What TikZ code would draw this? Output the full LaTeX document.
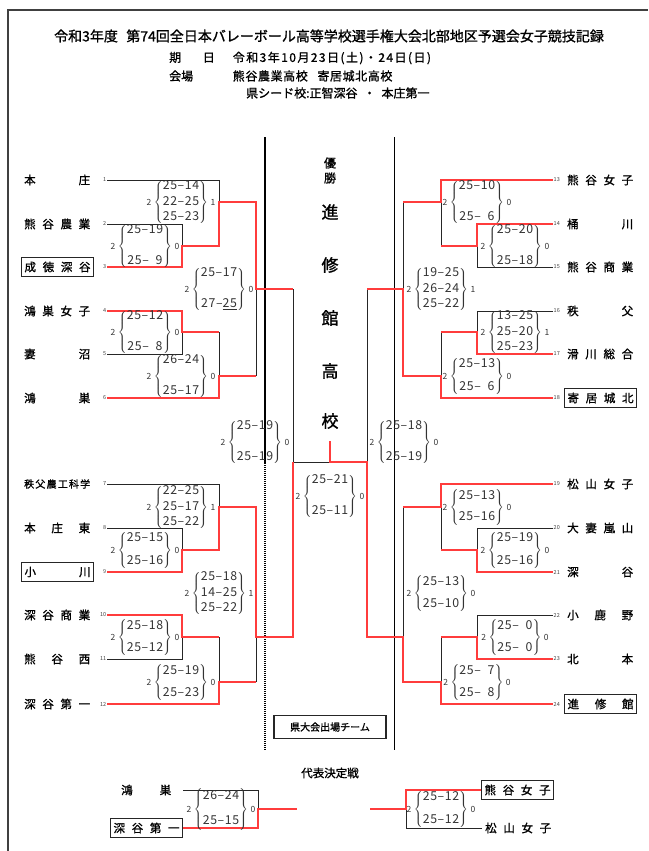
\documentclass[tikz,border=0pt]{standalone}
\usepackage{fontspec}
\setmainfont{Noto Sans CJK JP}
\newfontfamily\jpb{Noto Sans CJK JP}[FakeBold=1.2]
\newfontfamily\scorefont{Noto Sans CJK JP}[LetterSpace=5]
\usepackage{tikz}

\definecolor{wred}{RGB}{255,60,60}
\newcommand{\tname}[1]{\makebox[66pt]{#1}}
\newcommand{\dsp}{\phantom{0}}
\newcommand{\cnt}[1]{{\fontsize{8.5}{9}\selectfont #1}}
\newcommand{\setscore}[3]{\cnt{#1}\hspace{2.5pt}$\left\{\begin{tabular}{@{}c@{}}#2\end{tabular}\right\}$\hspace{2.5pt}\cnt{#3}}

\tikzset{
    frame/.style = {line width=1.3pt, draw=black!75},
    title/.style = {font=\jpb\fontsize{14}{16}\selectfont},
    info/.style = {anchor=west, inner sep=0pt, font=\jpb\fontsize{12}{14}\selectfont},
    team/.style = {anchor=west, inner xsep=3pt, inner ysep=4pt, font=\jpb\fontsize{11.5}{12}\selectfont},
    boxed/.style = {draw=black!85, line width=1.1pt},
    seed/.style = {inner sep=0.5pt, font=\fontsize{5.5}{6}\selectfont, text=black!75},
    score/.style = {inner sep=0pt, text=black!80, font=\scorefont\fontsize{12.3}{15.5}\selectfont},
    win/.style = {draw=wred, line width=1.2pt},
    lose/.style = {draw=black!85, line width=0.9pt},
    champ/.style = {font=\jpb\fontsize{17}{18}\selectfont}
}

\begin{document}
\begin{tikzpicture}[x=1pt,y=-1pt]
\useasboundingbox (0,0) rectangle (648,851);
\draw[frame] (8,851) -- (8,10) -- (648,10);

% heading
\node[title] (title) at (329,36) {令和3年度\hspace{0.6em}第74回全日本バレーボール高等学校選手権大会北部地区予選会女子競技記録};
\node[info] (date) at (169,58) {期\hspace{1.8em}日\hspace{1.5em}{\addfontfeatures{LetterSpace=12}令和3年10月23日(土)・24日(日)}};
\node[info] (venue) at (169,76) {会場\hspace{3.3em}{\addfontfeatures{LetterSpace=5}熊谷農業高校\hspace{0.8em}寄居城北高校}};
\node[info] (seeded) at (246,93) {県シード校:正智深谷\hspace{0.5em}・\hspace{0.5em}本庄第一};

% center column
\draw[line width=2.4pt] (265,137) -- (265,463);
\draw[line width=2pt, dash pattern=on 1pt off 1pt] (265,463) -- (265,750);
\draw[line width=1pt] (394,137) -- (394,750);
\node[font=\jpb\fontsize{12}{12}\selectfont] (yu) at (330,163) {優};
\node[font=\jpb\fontsize{12}{12}\selectfont] (sho) at (330,178) {勝};
\node[champ] (c1) at (330,212) {進};
\node[champ] (c2) at (330,265) {修};
\node[champ] (c3) at (330,318) {館};
\node[champ] (c4) at (330,371) {高};
\node[champ] (c5) at (330,421) {校};
\node[draw=black!85, line width=1.1pt, minimum width=112pt, minimum height=23pt, font=\jpb\fontsize{10}{10}\selectfont] (pref) at (330,727) {県大会出場チーム};

% left teams
\node[team] (t1) at (21,180) {\tname{本\hfill 庄}};
\node[team] (t2) at (21,224) {\tname{熊\hfill 谷\hfill 農\hfill 業}};
\node[team, boxed] (t3) at (21,267) {\tname{成\hfill 徳\hfill 深\hfill 谷}};
\node[team] (t4) at (21,311) {\tname{鴻\hfill 巣\hfill 女\hfill 子}};
\node[team] (t5) at (21,354) {\tname{妻\hfill 沼}};
\node[team] (t6) at (21,398) {\tname{鴻\hfill 巣}};
\node[team, font=\jpb\fontsize{10}{11}\selectfont] (t7) at (21,484) {\tname{秩\hfill 父\hfill 農\hfill 工\hfill 科\hfill 学}};
\node[team] (t8) at (21,528) {\tname{本\hfill 庄\hfill 東}};
\node[team, boxed] (t9) at (21,572) {\tname{小\hfill 川}};
\node[team] (t10) at (21,615) {\tname{深\hfill 谷\hfill 商\hfill 業}};
\node[team] (t11) at (21,659) {\tname{熊\hfill 谷\hfill 西}};
\node[team] (t12) at (21,704) {\tname{深\hfill 谷\hfill 第\hfill 一}};

\node[seed, anchor=east] (n1) at (107,180) {1};
\node[seed, anchor=east] (n2) at (107,224) {2};
\node[seed, anchor=east] (n3) at (107,267) {3};
\node[seed, anchor=east] (n4) at (107,311) {4};
\node[seed, anchor=east] (n5) at (107,354) {5};
\node[seed, anchor=east] (n6) at (107,398) {6};
\node[seed, anchor=east] (n7) at (107,484) {7};
\node[seed, anchor=east] (n8) at (107,528) {8};
\node[seed, anchor=east] (n9) at (107,572) {9};
\node[seed, anchor=east] (n10) at (107,615) {10};
\node[seed, anchor=east] (n11) at (107,659) {11};
\node[seed, anchor=east] (n12) at (107,704) {12};

% right teams
\node[team] (t13) at (564,180) {\tname{熊\hfill 谷\hfill 女\hfill 子}};
\node[team] (t14) at (564,224) {\tname{桶\hfill 川}};
\node[team] (t15) at (564,267) {\tname{熊\hfill 谷\hfill 商\hfill 業}};
\node[team] (t16) at (564,311) {\tname{秩\hfill 父}};
\node[team] (t17) at (564,354) {\tname{滑\hfill 川\hfill 総\hfill 合}};
\node[team, boxed] (t18) at (564,398) {\tname{寄\hfill 居\hfill 城\hfill 北}};
\node[team] (t19) at (564,484) {\tname{松\hfill 山\hfill 女\hfill 子}};
\node[team] (t20) at (564,528) {\tname{大\hfill 妻\hfill 嵐\hfill 山}};
\node[team] (t21) at (564,572) {\tname{深\hfill 谷}};
\node[team] (t22) at (564,615) {\tname{小\hfill 鹿\hfill 野}};
\node[team] (t23) at (564,659) {\tname{北\hfill 本}};
\node[team, boxed] (t24) at (564,704) {\tname{進\hfill 修\hfill 館}};

\node[seed, anchor=west] (n13) at (553,180) {13};
\node[seed, anchor=west] (n14) at (553,224) {14};
\node[seed, anchor=west] (n15) at (553,267) {15};
\node[seed, anchor=west] (n16) at (553,311) {16};
\node[seed, anchor=west] (n17) at (553,354) {17};
\node[seed, anchor=west] (n18) at (553,398) {18};
\node[seed, anchor=west] (n19) at (553,484) {19};
\node[seed, anchor=west] (n20) at (553,528) {20};
\node[seed, anchor=west] (n21) at (553,572) {21};
\node[seed, anchor=west] (n22) at (553,615) {22};
\node[seed, anchor=west] (n23) at (553,659) {23};
\node[seed, anchor=west] (n24) at (553,704) {24};

% match points
\coordinate (A1) at (219,202);
\coordinate (A23) at (182,246);
\coordinate (A45) at (182,332);
\coordinate (A6) at (219,376);
\coordinate (QA) at (256,289);
\coordinate (A7) at (219,507);
\coordinate (A89) at (182,550);
\coordinate (A1011) at (182,637);
\coordinate (A12) at (219,682);
\coordinate (QB) at (256,637);
\coordinate (SL) at (293,462);
\coordinate (B13) at (441,202);
\coordinate (B1415) at (477,246);
\coordinate (B1617) at (477,332);
\coordinate (B18) at (441,376);
\coordinate (QC) at (403,289);
\coordinate (B19) at (441,507);
\coordinate (B2021) at (477,550);
\coordinate (B2223) at (477,637);
\coordinate (B24) at (441,682);
\coordinate (QD) at (403,637);
\coordinate (SR) at (367,462);
\coordinate (F) at (330,462);
\coordinate (top) at (330,441);

% left bracket
\draw[lose] (n1.east) -| (A1);
\draw[lose] (n2.east) -| (A23);
\draw[lose] (n5.east) -| (A45);
\draw[lose] (A45 -| A6) -- (A6);
\draw[lose] (A6 -| QA) -- (QA);
\draw[lose] (QA -| SL) -- (SL) -- (F);
\draw[lose] (n7.east) -| (A7);
\draw[lose] (n8.east) -| (A89);
\draw[lose] (n11.east) -| (A1011);
\draw[lose] (A1011 -| A12) -- (A12);
\draw[lose] (A12 -| QB) -- (QB);
\draw[win] (n3.east) -| (A23) -| (A1) -| (QA) -- (QA -| SL);
\draw[win] (n4.east) -| (A45) -- (A45 -| A6);
\draw[win] (n6.east) -| (A6) -- (A6 -| QA);
\draw[win] (n9.east) -| (A89) -| (A7) -| (QB) -| (SL);
\draw[win] (n10.east) -| (A1011) -- (A1011 -| A12);
\draw[win] (n12.east) -| (A12) -- (A12 -| QB);

% right bracket
\draw[lose] (B13 -| QC) -- (QC);
\draw[lose] (n15.west) -| (B1415);
\draw[lose] (B1415 -| B13) -- (B13);
\draw[lose] (n16.west) -| (B1617);
\draw[lose] (B1617 -| B18) -- (B18);
\draw[lose] (QC -| SR) -- (SR);
\draw[lose] (B19 -| QD) -- (QD);
\draw[lose] (n20.west) -| (B2021);
\draw[lose] (B2021 -| B19) -- (B19);
\draw[lose] (n22.west) -| (B2223);
\draw[lose] (B2223 -| B24) -- (B24);
\draw[win] (n13.west) -| (B13) -- (B13 -| QC);
\draw[win] (n14.west) -| (B1415) -- (B1415 -| B13);
\draw[win] (n17.west) -| (B1617) -- (B1617 -| B18);
\draw[win] (n18.west) -| (B18) -| (QC) -- (QC -| SR);
\draw[win] (n19.west) -| (B19) -- (B19 -| QD);
\draw[win] (n21.west) -| (B2021) -- (B2021 -| B19);
\draw[win] (n23.west) -| (B2223) -- (B2223 -| B24);
\draw[win] (n24.west) -| (B24) -| (QD) -| (SR) -- (F) -- (top);

% scores
\node[score] (s1) at (181,202) {\setscore{2}{25–14\\22–25\\25–23}{1}};
\node[score] (s23) at (145,246) {\setscore{2}{25–19\\ \\25–\dsp 9}{0}};
\node[score] (s45) at (145,332) {\setscore{2}{25–12\\ \\25–\dsp 8}{0}};
\node[score] (s6) at (181,376) {\setscore{2}{26–24\\ \\25–17}{0}};
\node[score] (sqa) at (219,289) {\setscore{2}{25–17\\ \\27–\underline{25}}{0}};
\node[score] (ssl) at (255,442) {\setscore{2}{25–19\\ \\25–19}{0}};
\node[score] (s7) at (181,507) {\setscore{2}{22–25\\25–17\\25–22}{1}};
\node[score] (s89) at (145,550) {\setscore{2}{25–15\\[8pt]25–16}{0}};
\node[score] (sqb) at (219,593) {\setscore{2}{25–18\\14–25\\25–22}{1}};
\node[score] (s1011) at (145,637) {\setscore{2}{25–18\\[6.5pt]25–12}{0}};
\node[score] (s12) at (181,682) {\setscore{2}{25–19\\[6.5pt]25–23}{0}};
\node[score] (s13) at (477,202) {\setscore{2}{25–10\\ \\25–\dsp 6}{0}};
\node[score] (s1415) at (515,246) {\setscore{2}{25–20\\ \\25–18}{0}};
\node[score] (sqc) at (441,289) {\setscore{2}{19–25\\26–24\\25–22}{1}};
\node[score] (s1617) at (515,332) {\setscore{2}{13–25\\25–20\\25–23}{1}};
\node[score] (s18) at (477,376) {\setscore{2}{25–13\\[8pt]25–\dsp 6}{0}};
\node[score] (ssr) at (404,442) {\setscore{2}{25–18\\ \\25–19}{0}};
\node[score] (sfin) at (330,496) {\setscore{2}{25–21\\ \\25–11}{0}};
\node[score] (s19) at (477,507) {\setscore{2}{25–13\\[6pt]25–16}{0}};
\node[score] (s2021) at (515,550) {\setscore{2}{25–19\\[8pt]25–16}{0}};
\node[score] (sqd) at (441,593) {\setscore{2}{25–13\\[6.5pt]25–10}{0}};
\node[score] (s2223) at (515,637) {\setscore{2}{25–\dsp 0\\[6.5pt]25–\dsp 0}{0}};
\node[score] (s24) at (477,682) {\setscore{2}{25–\dsp 7\\[6.5pt]25–\dsp 8}{0}};

% play-off
\node[font=\jpb\fontsize{11.5}{12}\selectfont] (rep) at (330,773) {代表決定戦};
\node[team] (p1) at (118,790) {\makebox[50pt]{鴻\hfill 巣}};
\node[team, boxed] (p2) at (110,828) {\tname{深\hfill 谷\hfill 第\hfill 一}};
\node[team, boxed] (p3) at (481,790) {\tname{熊\hfill 谷\hfill 女\hfill 子}};
\node[team] (p4) at (482,828) {\tname{松\hfill 山\hfill 女\hfill 子}};
\coordinate (PL) at (258,809);
\coordinate (PLend) at (297,809);
\coordinate (PR) at (406,809);
\coordinate (PRend) at (370,809);
\draw[lose] ([xshift=9pt]p1.east) -| (PL);
\draw[lose] (p4.west) -| (PR);
\draw[win] (p2.east) -| (PL) -- (PLend);
\draw[win] (p3.west) -| (PR) -- (PRend);
\node[score] (sp1) at (221,809) {\setscore{2}{26–24\\[9pt]25–15}{0}};
\node[score] (sp2) at (441,809) {\setscore{2}{25–12\\[8pt]25–12}{0}};
\end{tikzpicture}
\end{document}
